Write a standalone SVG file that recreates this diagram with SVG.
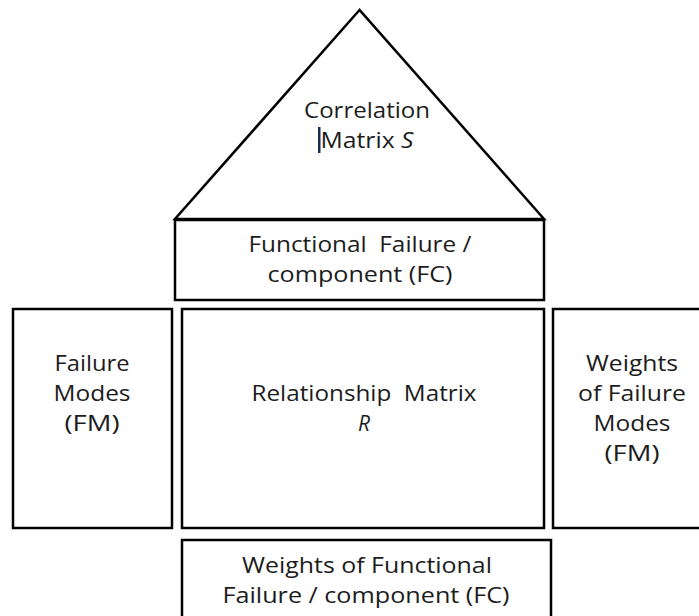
<svg xmlns="http://www.w3.org/2000/svg" width="699" height="616" viewBox="0 0 699 616">
<style>
.box{fill:#fff;stroke:#000;stroke-width:2.5}
.t{font-family:"Open Sans","Liberation Sans",sans-serif;font-size:21px;fill:#1c1c1c;text-anchor:middle}
.i{font-style:italic}
</style>
<rect width="699" height="616" fill="#fff"/>
<g id="correlation">
<polygon class="box" points="359.5,10 175,219 544,219" stroke-linejoin="miter"/>
<text class="t" x="367" y="118" textLength="126" lengthAdjust="spacingAndGlyphs">Correlation</text>
<text class="t" x="367" y="148" textLength="93" lengthAdjust="spacingAndGlyphs">Matrix <tspan class="i">S</tspan></text>
<rect x="318" y="127" width="2.5" height="26" fill="#1a2a55"/>
</g>
<g id="fc">
<rect class="box" x="175" y="220" width="369" height="80"/>
<text class="t" x="360" y="252" xml:space="preserve" textLength="223" lengthAdjust="spacingAndGlyphs">Functional  Failure /</text>
<text class="t" x="360" y="282" textLength="185" lengthAdjust="spacingAndGlyphs">component (FC)</text>
</g>
<g id="fm">
<rect class="box" x="13" y="309" width="159" height="219"/>
<text class="t" x="92" y="371" textLength="75" lengthAdjust="spacingAndGlyphs">Failure</text>
<text class="t" x="92" y="401" textLength="77" lengthAdjust="spacingAndGlyphs">Modes</text>
<text class="t" x="92" y="431" textLength="55" lengthAdjust="spacingAndGlyphs">(FM)</text>
</g>
<g id="relationship">
<rect class="box" x="182" y="309" width="362" height="219"/>
<text class="t" x="364" y="401" xml:space="preserve" textLength="225" lengthAdjust="spacingAndGlyphs">Relationship  Matrix</text>
<text class="t i" x="364" y="431">R</text>
</g>
<g id="wfm">
<rect class="box" x="553" y="309" width="150" height="219"/>
<text class="t" x="632" y="371" textLength="92" lengthAdjust="spacingAndGlyphs">Weights</text>
<text class="t" x="632" y="401" textLength="108" lengthAdjust="spacingAndGlyphs">of Failure</text>
<text class="t" x="632" y="431" textLength="77" lengthAdjust="spacingAndGlyphs">Modes</text>
<text class="t" x="632" y="461" textLength="55" lengthAdjust="spacingAndGlyphs">(FM)</text>
</g>
<g id="wfc">
<rect class="box" x="182" y="540" width="369" height="90"/>
<text class="t" x="367" y="573" textLength="250" lengthAdjust="spacingAndGlyphs">Weights of Functional</text>
<text class="t" x="366" y="603" textLength="287" lengthAdjust="spacingAndGlyphs">Failure / component (FC)</text>
</g>
<g id="connectors"></g>
</svg>
